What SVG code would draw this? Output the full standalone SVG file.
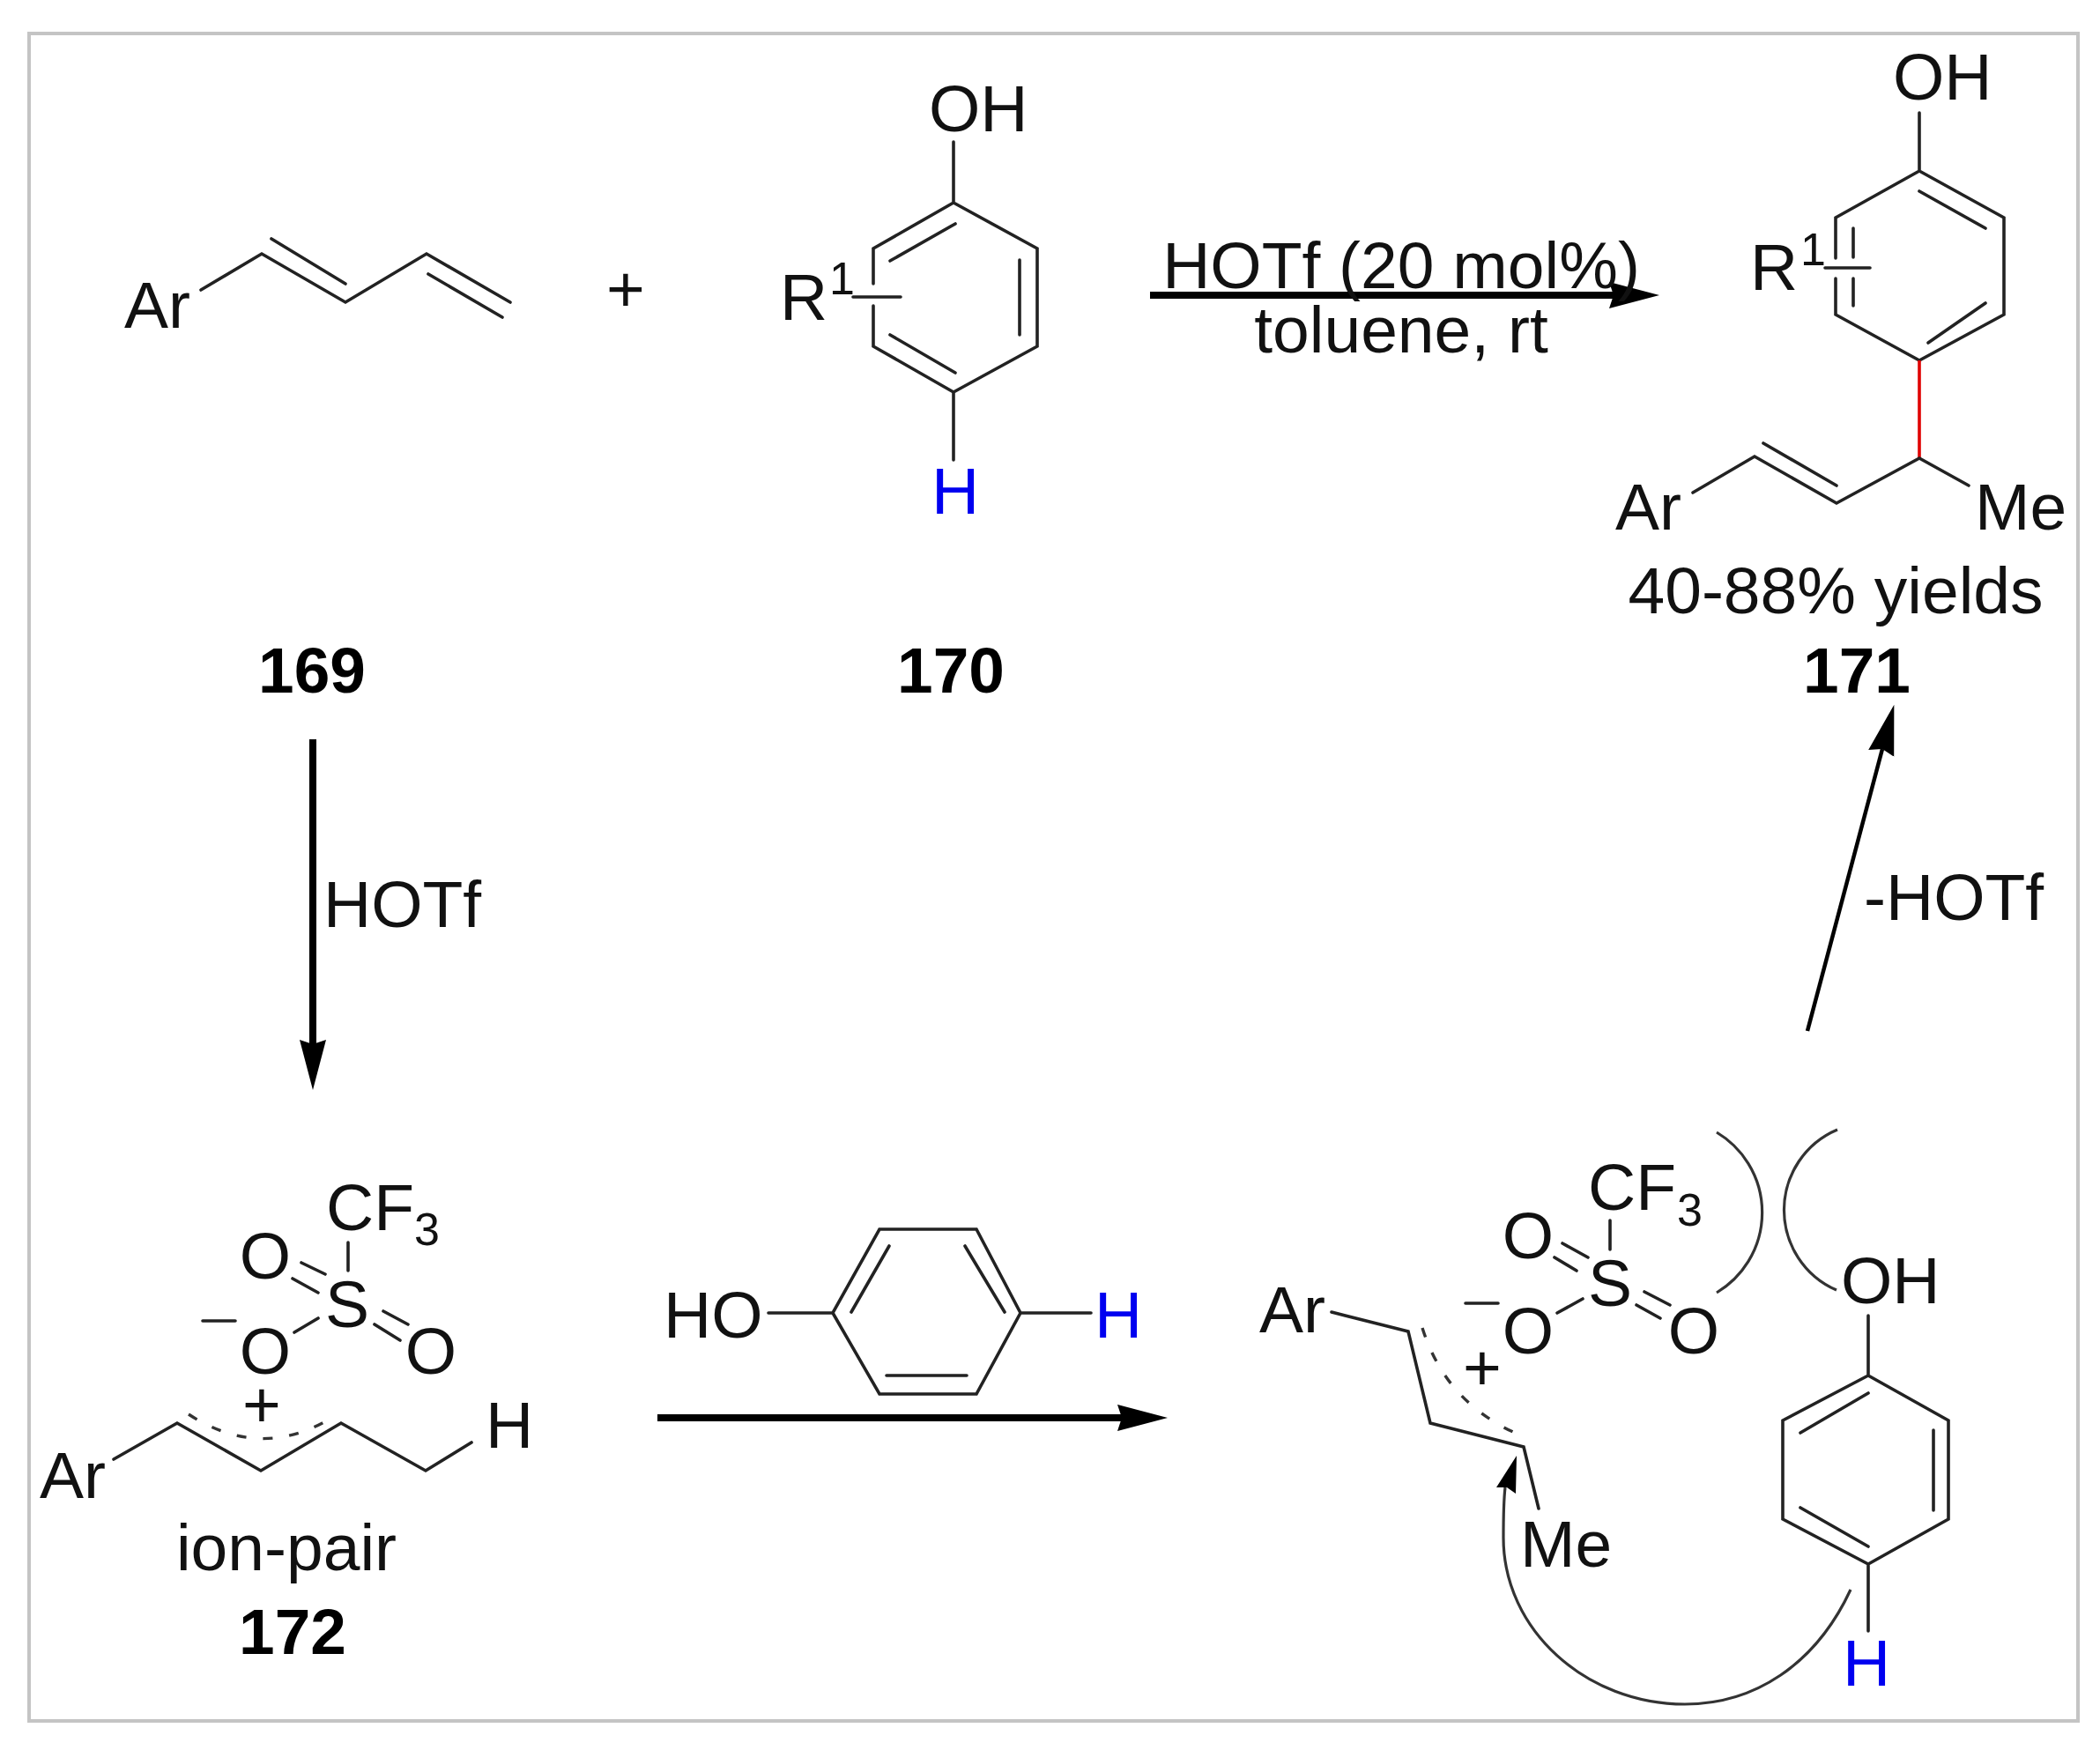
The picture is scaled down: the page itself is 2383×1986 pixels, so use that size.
<svg xmlns="http://www.w3.org/2000/svg" width="2383" height="1986" viewBox="0 0 2383 1986">
<defs>
<style>
text{font-family:"Liberation Sans",Arial,sans-serif;font-size:75px;fill:#111}
.c{text-anchor:middle}
.b{font-weight:bold;font-size:73px;fill:#000}
.h{fill:#0000f0}
.s{font-size:52px}
.bd{fill:none;stroke:#222;stroke-width:3.6;stroke-linecap:round;stroke-linejoin:miter}
.d{fill:none;stroke:#333;stroke-width:3.4;stroke-dasharray:11 19}
.a{fill:none;stroke:#000;stroke-width:8}
.t{fill:none;stroke:#333;stroke-width:3.2}
</style>
<marker id="ah" markerUnits="userSpaceOnUse" markerWidth="62" markerHeight="34" refX="5" refY="16" orient="auto"><path d="M0 1L57 16L0 31L5 16Z" fill="#000"/></marker>
</defs>
<rect width="2383" height="1986" fill="#fff"/>
<rect x="33" y="38" width="2325" height="1915" fill="none" stroke="#c4c4c4" stroke-width="4"/>

<g id="connectors">
<path class="a" d="M1305 335H1831" marker-end="url(#ah)"/>
<path class="a" d="M355 839V1185" marker-end="url(#ah)"/>
<path class="a" d="M746 1609H1273" marker-end="url(#ah)"/>
<path class="a" style="stroke-width:4.5" d="M2051 1170L2136 850" marker-end="url(#ah)"/>
<path class="t" d="M2100 1804C2060 1890 1990 1934 1912 1934C1800 1934 1706 1850 1706 1745C1706 1725 1706 1705 1708 1688"/>
<path d="M1721 1652L1720 1695L1710 1688L1698 1688Z" fill="#000"/>
</g>

<g id="reagent-169">
<text x="141" y="372">Ar</text>
<path class="bd" d="M228 329L297 288L392 343L484 288L579 343M308 271L392 322M486 311L570 360"/>
<text class="b c" x="354" y="786">169</text>
</g>

<text id="plus" class="c" x="710" y="354">+</text>

<g id="reagent-170">
<text x="1054" y="149">OH</text>
<path class="bd" d="M1082 161V230L1177 282V393L1082 445L991 393V347M991 322V282L1082 230M1010 296L1084 254M1157 295V380M1010 380L1084 423M1082 445V522M968 337H1022"/>
<text x="885" y="363">R</text><text class="s" x="941" y="334">1</text>
<text class="c h" x="1084" y="583">H</text>
<text class="b c" x="1079" y="786">170</text>
</g>

<g id="conditions">
<text class="c" x="1590" y="327">HOTf (20 mol%)</text>
<text class="c" x="1590" y="400">toluene, rt</text>
</g>

<g id="product-171">
<text x="2148" y="113">OH</text>
<path class="bd" d="M2178 128V194L2274 247V357L2178 409L2083 357V316M2083 293V247L2178 194M2178 217L2253 259M2188 389L2253 344M2103 259V292M2103 316V347M2071 304H2122"/>
<path style="fill:none;stroke:#e00000;stroke-width:3.6" d="M2178 409V520"/>
<path class="bd" d="M2234 551L2178 520L2084 571L1991 518L1921 559M2001 503L2084 551"/>
<text x="1986" y="329">R</text><text class="s" x="2043" y="301">1</text>
<text x="1833" y="601">Ar</text>
<text x="2241" y="601">Me</text>
<text class="c" x="2083" y="696">40-88% yields</text>
<text class="b c" x="2107" y="786">171</text>
</g>

<text id="label-hotf" x="367" y="1052">HOTf</text>
<text id="label-minus-hotf" x="2115" y="1044">-HOTf</text>

<g id="ion-pair-172">
<text x="370" y="1396">CF</text><text class="s" x="470" y="1413">3</text>
<text class="c" x="301" y="1451">O</text>
<text class="c" x="394" y="1506">S</text>
<text class="c" x="301" y="1559">O</text>
<text class="c" x="489" y="1559">O</text>
<path class="bd" d="M230 1499H267M395 1410V1442M342 1433L369 1446M332 1451L361 1467M435 1488L463 1503M425 1503L454 1521M334 1512L361 1496"/>
<text class="c" x="297" y="1620">+</text>
<path class="bd" d="M129 1656L201 1615L296 1669L387 1615L483 1669L535 1637"/>
<path class="d" d="M214 1605Q294 1657 373 1611"/>
<text x="45" y="1700">Ar</text>
<text x="551" y="1643">H</text>
<text class="c" x="325" y="1782">ion-pair</text>
<text class="b c" x="332" y="1877">172</text>
</g>

<g id="phenol-over-arrow">
<text x="753" y="1518">HO</text>
<path class="bd" d="M872 1490H945L998 1395H1108L1158 1490L1108 1582H998L945 1490M1009 1414L966 1489M1095 1414L1140 1489M1006 1561H1097M1158 1490H1238"/>
<text class="h" x="1242" y="1518">H</text>
</g>

<g id="intermediate">
<text x="1429" y="1512">Ar</text>
<path class="bd" d="M1511 1489L1598 1511L1623 1615L1729 1642L1746 1712"/>
<path class="d" d="M1614 1507Q1640 1590 1719 1626"/>
<text class="c" x="1682" y="1578">+</text>
<text x="1802" y="1373">CF</text><text class="s" x="1903" y="1391">3</text>
<text class="c" x="1734" y="1428">O</text>
<text class="c" x="1827" y="1482">S</text>
<text class="c" x="1734" y="1536">O</text>
<text class="c" x="1922" y="1536">O</text>
<path class="bd" d="M1663 1479H1700M1827 1385V1418M1773 1411L1802 1427M1764 1427L1789 1442M1866 1466L1895 1481M1857 1481L1884 1496M1767 1490L1796 1474"/>
<text x="1725" y="1778">Me</text>
<path class="t" d="M1948 1285A106 106 0 0 1 1948 1467M2085 1282A99 99 0 0 0 2084 1464"/>
<text x="2089" y="1479">OH</text>
<path class="bd" d="M2120 1493V1561L2211 1612V1724L2120 1775L2023 1724V1612L2120 1561M2043 1626L2120 1581M2194 1623V1714M2043 1711L2120 1755M2120 1775V1851"/>
<text class="c h" x="2118" y="1913">H</text>
</g>
</svg>
